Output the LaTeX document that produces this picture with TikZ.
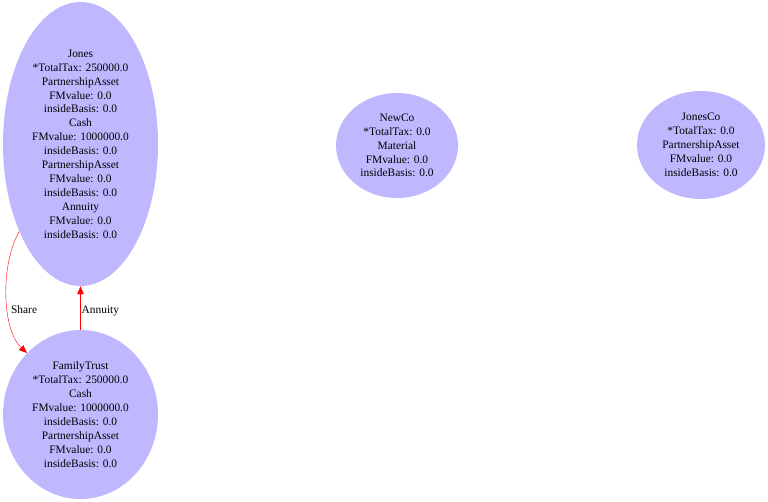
\documentclass[tikz,border=0pt]{standalone}
\usepackage{fontspec}
\setmainfont{Liberation Serif}
\usetikzlibrary{shapes.geometric,arrows.meta}
\definecolor{acctfill}{RGB}{192,184,255}
\tikzset{
  acct/.style={ellipse, fill=acctfill, draw=none, inner sep=0pt, align=center,
    font=\fontsize{11.4pt}{13.9pt}\selectfont},
  flow/.style={draw=red, -{Triangle[length=8pt,width=6.5pt]}, fill=none},
  flowlabel/.style={font=\fontsize{11.4pt}{14pt}\selectfont, inner sep=1pt}
}
\begin{document}
\begin{tikzpicture}[x=1pt,y=1pt]
  \useasboundingbox (0,0) rectangle (768,-501);
  \node[acct, minimum width=155pt, minimum height=284pt] (jones) at (80.5,-144)
    {Jones\\*TotalTax: 250000.0\\PartnershipAsset\\FMvalue: 0.0\\insideBasis: 0.0\\Cash\\FMvalue: 1000000.0\\insideBasis: 0.0\\PartnershipAsset\\FMvalue: 0.0\\insideBasis: 0.0\\Annuity\\FMvalue: 0.0\\insideBasis: 0.0};
  \node[acct, minimum width=155pt, minimum height=169pt] (trust) at (80.5,-414.5)
    {FamilyTrust\\*TotalTax: 250000.0\\Cash\\FMvalue: 1000000.0\\insideBasis: 0.0\\PartnershipAsset\\FMvalue: 0.0\\insideBasis: 0.0};
  \node[acct, minimum width=122pt, minimum height=105pt] (newco) at (397,-145.5)
    {NewCo\\*TotalTax: 0.0\\Material\\FMvalue: 0.0\\insideBasis: 0.0};
  \node[acct, minimum width=128pt, minimum height=108pt] (jonesco) at (701,-145)
    {JonesCo\\*TotalTax: 0.0\\PartnershipAsset\\FMvalue: 0.0\\insideBasis: 0.0};
  % edges between accounts
  \draw[flow] (jones.235) .. controls (0,-265) and (2,-330) .. (trust.131)
    node[flowlabel, pos=0.6, anchor=west, xshift=2pt, text=black] {Share};
  \draw[flow] (trust.north) -- (jones.south)
    node[flowlabel, midway, anchor=west, yshift=-2.5pt, text=black] {Annuity};
\end{tikzpicture}
\end{document}
